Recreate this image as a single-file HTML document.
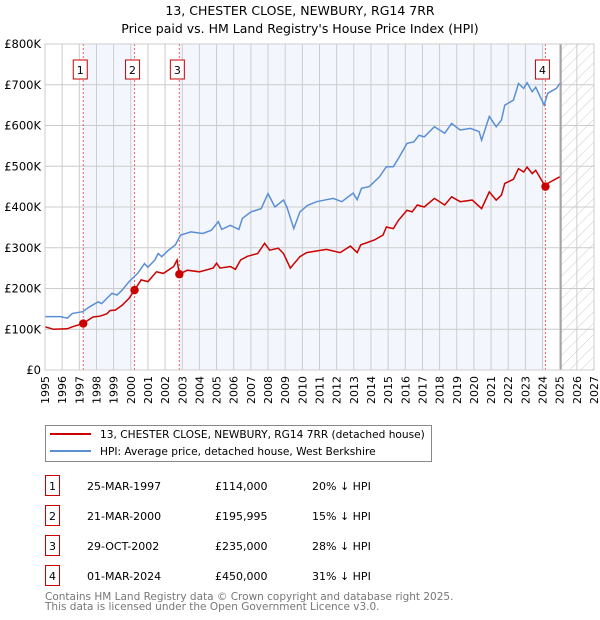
<!DOCTYPE html>
<html><head><meta charset="utf-8"><style>
body{margin:0;background:#fff;font-family:"DejaVu Sans","Liberation Sans",sans-serif;}
svg{display:block}
</style></head><body>
<svg id="c" width="600" height="620" xmlns="http://www.w3.org/2000/svg" font-family="DejaVu Sans, Liberation Sans, sans-serif">
<defs><pattern id="hatch" width="8" height="8" patternUnits="userSpaceOnUse" patternTransform="rotate(45)"><line x1="0" y1="0" x2="0" y2="8" stroke="#ccc" stroke-width="1"/></pattern></defs>
<text x="300" y="15" text-anchor="middle" font-size="12.5">13, CHESTER CLOSE, NEWBURY, RG14 7RR</text>
<text x="300" y="33" text-anchor="middle" font-size="12.5">Price paid vs. HM Land Registry's House Price Index (HPI)</text>
<g id="plot"></g>
<g>
<rect x="45.5" y="425.5" width="386" height="36" fill="#fff" stroke="#888"/>
<line x1="50" y1="434" x2="91" y2="434" stroke="#cc0000" stroke-width="2"/>
<text x="100" y="438" font-size="10.6">13, CHESTER CLOSE, NEWBURY, RG14 7RR (detached house)</text>
<line x1="50" y1="451" x2="91" y2="451" stroke="#5b8fd4" stroke-width="2"/>
<text x="100" y="455" font-size="10.6">HPI: Average price, detached house, West Berkshire</text>
</g>
<g id="table"></g>
<text x="45" y="600" font-size="10.5" fill="#777">Contains HM Land Registry data © Crown copyright and database right 2025.</text>
<text x="45" y="610" font-size="10.5" fill="#777">This data is licensed under the Open Government Licence v3.0.</text>
</svg>
<script>
const hpiYears=[1995,1995.9,1996.3,1996.6,1997.2,1997.6,1998.1,1998.3,1998.9,1999.2,1999.5,1999.9,2000.4,2000.8,2001.0,2001.4,2001.6,2001.8,2002.2,2002.6,2002.9,2003.5,2004.2,2004.7,2005.1,2005.3,2005.8,2006.3,2006.5,2007.0,2007.6,2008.0,2008.4,2008.9,2009.1,2009.5,2009.86,2010.3,2010.83,2011.4,2011.8,2012.3,2012.96,2013.2,2013.45,2013.9,2014.5,2014.9,2015.3,2015.6,2016.1,2016.5,2016.8,2017.1,2017.7,2018.3,2018.7,2019.2,2019.8,2020.3,2020.45,2020.9,2021.3,2021.6,2021.8,2022.3,2022.6,2022.9,2023.1,2023.4,2023.6,2024.1,2024.3,2024.8,2025.0];
const hpiValues=[131,131,127,139,143,155,167,163,188,184,196,217,237,261,252,270,286,278,294,307,331,339,335,343,364,345,355,345,372,388,396,433,400,417,400,347,388,404,413,418,421,413,434,418,446,450,474,499,499,519,556,560,576,572,597,581,605,589,593,585,564,622,597,613,650,662,703,691,705,683,694,650,679,691,703];
const ppYears=[1995,1995.5,1996.3,1996.6,1997.22,1997.8,1998.2,1998.6,1998.8,1999.1,1999.5,1999.9,2000.22,2000.6,2001.0,2001.5,2001.9,2002.5,2002.7,2002.83,2003.3,2004.0,2004.8,2005.0,2005.2,2005.8,2006.1,2006.4,2006.8,2007.4,2007.8,2008.1,2008.6,2008.9,2009.3,2009.86,2010.25,2011.4,2012.2,2012.8,2013.2,2013.4,2014.2,2014.7,2014.9,2015.3,2015.6,2016.1,2016.4,2016.7,2017.1,2017.7,2018.3,2018.7,2019.2,2019.9,2020.45,2020.9,2021.3,2021.6,2021.8,2022.3,2022.6,2022.9,2023.1,2023.4,2023.6,2024.0,2024.17,2024.3,2025.0];
const ppValues=[106,100,101,106,114,130,132,138,146,147,159,176,196,221,217,241,237,254,270,235,245,241,250,262,250,254,247,270,279,286,311,294,299,286,250,278,288,296,288,304,288,307,319,331,351,347,367,392,388,405,400,421,405,425,413,417,396,437,417,429,458,468,494,486,498,482,490,462,450,458,474];
const saleYears=[1997.23,2000.22,2002.83,2024.17];
const saleValues=[114,195.995,235,450];
const saleLabels=["1","2","3","4"];
const saleDates=["25-MAR-1997","21-MAR-2000","29-OCT-2002","01-MAR-2024"];
const salePrices=["£114,000","£195,995","£235,000","£450,000"];
const saleDiffs=["20% ↓ HPI","15% ↓ HPI","28% ↓ HPI","31% ↓ HPI"];
const yTicks=[0,100,200,300,400,500,600,700,800];
const yTickLabels=["£0","£100K","£200K","£300K","£400K","£500K","£600K","£700K","£800K"];
const xTicks=[1995,1996,1997,1998,1999,2000,2001,2002,2003,2004,2005,2006,2007,2008,2009,2010,2011,2012,2013,2014,2015,2016,2017,2018,2019,2020,2021,2022,2023,2024,2025,2026,2027];

const L=45,R=594,T=44,B=370,x0=1995,x1=2027,ymax=800;
const X=v=>L+(v-x0)/(x1-x0)*(R-L);
const Y=v=>B-v/ymax*(B-T);
const NS="http://www.w3.org/2000/svg";
const g=document.getElementById('plot');
function mk(tag,attrs,parent){const e=document.createElementNS(NS,tag);for(const k in attrs)e.setAttribute(k,attrs[k]);(parent||g).appendChild(e);return e;}
for(let i=0;i<saleYears.length;i+=2){
  const a=X(saleYears[i]),b=i+1<saleYears.length?X(saleYears[i+1]):X(2025.07);
  const r=mk('rect',{x:a,y:T,width:b-a,height:B-T,fill:'#eef3fc',opacity:0.7});
  
  
}
const hx=X(2025.07);
const h=mk('rect',{x:hx,y:T,width:R-hx,height:B-T,fill:'url(#hatch)'});


xTicks.forEach(t=>{const l=mk('line',{x1:X(t),x2:X(t),y1:T,y2:B,stroke:'#ccc','stroke-width':1});


const tx=mk('text',{x:0,y:0,'font-size':11,'text-anchor':'end',transform:`translate(${X(t)+4},${B+6}) rotate(-90)`});tx.textContent=t;

});
yTicks.forEach((t,i)=>{const l=mk('line',{x1:L,x2:R,y1:Y(t),y2:Y(t),stroke:'#ccc','stroke-width':1});


const tx=mk('text',{x:L-4,y:Y(t)+4,'font-size':11.5,'text-anchor':'end'});tx.textContent=yTickLabels[i];

});
const lv=mk('line',{x1:X(2025.07),x2:X(2025.07),y1:T,y2:B,stroke:'#999','stroke-width':1.5});


saleYears.forEach((s,i)=>{const l=mk('line',{x1:X(s),x2:X(s),y1:T,y2:B,stroke:'#f06060','stroke-width':1,'stroke-dasharray':'2,2'});


const bx=mk('rect',{x:X(s)-(s>2020?10:s<1999?10:9),y:T+16,width:14,height:19,fill:'#fff',stroke:'#cc0000'});


const tx=mk('text',{x:+bx.getAttribute('x')+7,y:T+30,'font-size':11,'text-anchor':'middle'});tx.textContent=saleLabels[i];

});
function path(xs,vs,col,name){const d=xs.map((x,i)=>(i?'L':'M')+X(x).toFixed(1)+','+Y(vs[i]).toFixed(1)).join('');
const p=mk('path',{d,fill:'none',stroke:col,'stroke-width':1.5});

}
path(hpiYears,hpiValues,'#5b8fd4','hpi-line');
path(ppYears,ppValues,'#cc0000','price-paid-line');
saleYears.forEach((s,i)=>{const c=mk('circle',{cx:X(s),cy:Y(saleValues[i]),r:4.2,fill:'#cc0000'});

});
const ax=mk('rect',{x:L,y:T,width:R-L,height:B-T,fill:'none',stroke:'#ccc'});


const tb=document.getElementById('table');
saleLabels.forEach((s,i)=>{const y=476+i*30;
const b=mk('rect',{x:45.5,y:y-0.5,width:14,height:20,fill:'#fff',stroke:'#cc0000'},tb);


const vals=[[52.5,s,'middle'],[87,saleDates[i],'start'],[215,salePrices[i],'start'],[312,saleDiffs[i],'start']];
vals.forEach(v=>{const t=mk('text',{x:v[0],y:y+14,'font-size':11,'text-anchor':v[2]},tb);t.textContent=v[1];

});});
</script>
</body></html>
